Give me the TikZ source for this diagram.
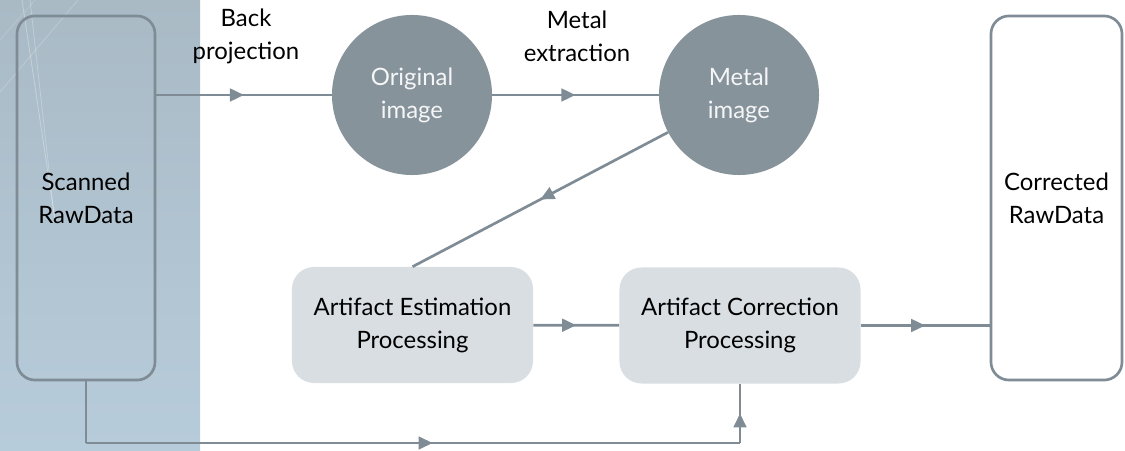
\documentclass[tikz,border=0pt]{standalone}
\usepackage{fontspec}
\setmainfont{Lato}
\usetikzlibrary{arrows.meta,decorations.markings}
\definecolor{flowgray}{HTML}{7F8C95}
\definecolor{discgray}{HTML}{87939B}
\definecolor{procgray}{HTML}{D9DEE2}
\definecolor{paneltop}{HTML}{A9BAC5}
\definecolor{panelbot}{HTML}{B7CCDB}
\tikzset{
  databox/.style={draw=flowgray,line width=1.9pt,rounded corners=0.45cm,minimum width=3.45cm,minimum height=9.1cm,align=center},
  disc/.style={circle,fill=discgray,minimum size=4cm,inner sep=0pt,align=center,text=white!92!discgray},
  procbox/.style={fill=procgray,rounded corners=0.55cm,minimum width=6.025cm,minimum height=2.9cm,align=center},
  flow/.style={draw=flowgray,line width=1.9pt},
  midarrow/.style={flow,postaction={decorate},decoration={markings,
    mark=at position #1 with {\arrow{Triangle[length=10pt,width=9pt]}}}},
  midarrow/.default=0.5,
  txt/.style={font=\fontsize{17}{23.5}\selectfont}
}
\begin{document}
\begin{tikzpicture}[x=0.025cm,y=-0.025cm,every node/.style={txt}]
\useasboundingbox (0,0) rectangle (1125,451);
% left panel
\shade[top color=paneltop,bottom color=panelbot] (0,0) rectangle (200,451);
\draw[white,opacity=0.3,line width=0.6pt] (22,0)--(55,220);
\draw[white,opacity=0.25,line width=0.6pt] (30,0)--(54,215);
\draw[white,opacity=0.2,line width=0.6pt] (0,92)--(78,0);
\draw[white,opacity=0.15,line width=0.6pt] (0,40)--(35,0);
% nodes
\node[databox] (scan) at (86,198) {Scanned\\RawData};
\node[databox,minimum width=3.275cm] (out) at (1056.5,198) {Corrected\\RawData};
\node[disc] (orig) at (412,95) {Original\\image};
\node[disc] (metal) at (739,95) {Metal\\image};
\node[procbox] (est) at (412.5,325) {Artifact Estimation\\Processing};
\node[procbox] (corr) at (740,325.5) {Artifact Correction\\Processing};
% labels
\node[align=center] (lbp) at (246,36) {Back\\projection};
\node[align=center] (lme) at (577,36) {Metal\\extraction};
% connectors
\coordinate (s1) at (scan.east |- orig);
\coordinate (b1) at (86,443);
\coordinate (b2) at (740,443);
\draw[midarrow] (s1) -- (orig);
\draw[midarrow] (orig) -- (metal);
\draw[midarrow] (metal) -- (est.north);
\draw[midarrow] (est) -- (corr);
\draw[midarrow] (corr) -- (out.west |- corr);
\draw[flow] (scan.south) -- (b1);
\draw[midarrow=0.53] (b1) -- (b2);
\draw[midarrow] (b2) -- (corr.south);
\end{tikzpicture}
\end{document}
